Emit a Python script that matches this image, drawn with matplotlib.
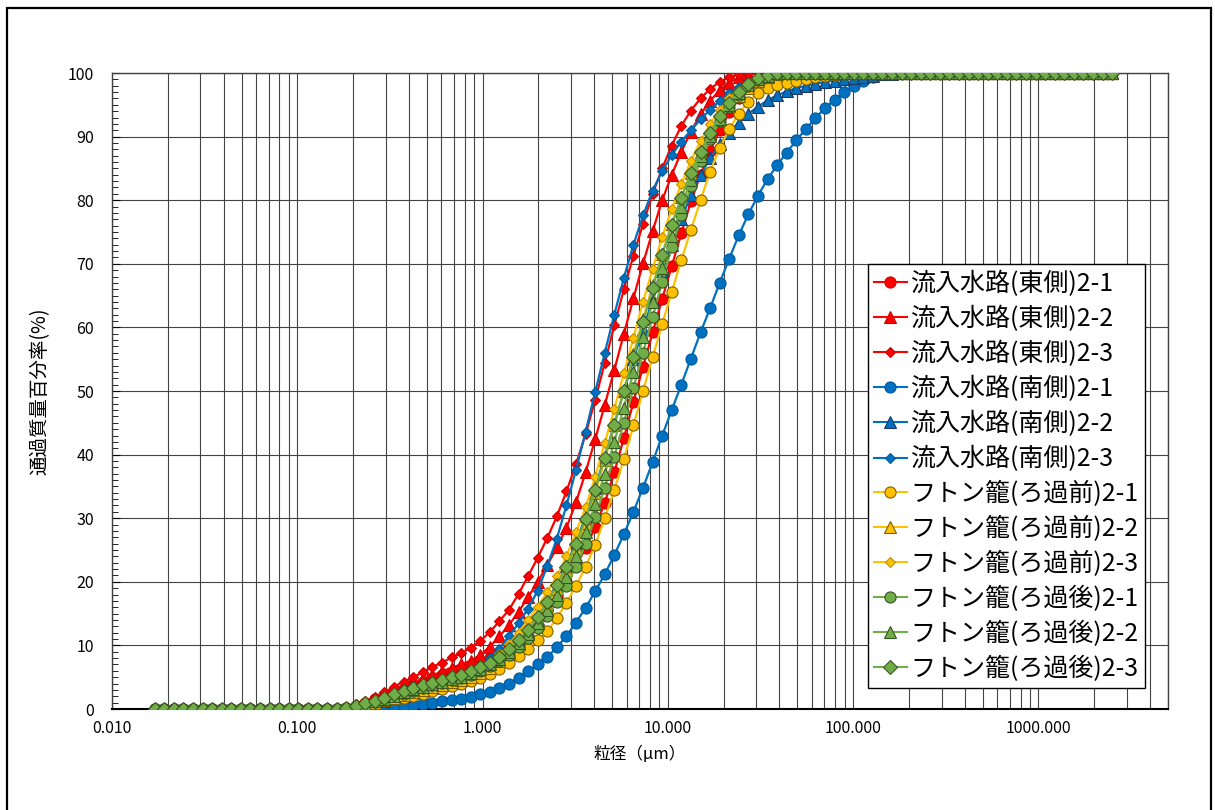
import matplotlib
matplotlib.use("Agg")
import matplotlib.pyplot as plt
from matplotlib.patches import Rectangle
from matplotlib.ticker import FixedLocator, NullFormatter, MultipleLocator

plt.rcParams['font.family'] = ['Noto Sans CJK JP', 'DejaVu Sans']

# particle size channels (µm)
sizes = [0.0170, 0.0191, 0.0216, 0.0243, 0.0274, 0.0308, 0.0347, 0.0391, 0.0440, 0.0496,
         0.0559, 0.0629, 0.0709, 0.0798, 0.0899, 0.1013, 0.1141, 0.1285, 0.1447, 0.1630,
         0.1836, 0.2068, 0.2330, 0.2624, 0.2955, 0.3329, 0.3750, 0.4223, 0.4757, 0.5358,
         0.6035, 0.6798, 0.7657, 0.8625, 0.9714, 1.094, 1.232, 1.388, 1.564, 1.761,
         1.984, 2.234, 2.517, 2.835, 3.193, 3.596, 4.051, 4.563, 5.139, 5.788,
         6.520, 7.344, 8.272, 9.317, 10.49, 11.82, 13.31, 15.00, 16.89, 19.03,
         21.43, 24.14, 27.19, 30.62, 34.49, 38.85, 43.76, 49.28, 55.51, 62.52,
         70.42, 79.32, 89.35, 100.6, 113.4, 127.7, 143.8, 162.0, 182.4, 205.5,
         231.5, 260.7, 293.6, 330.7, 372.5, 419.6, 472.6, 532.3, 599.6, 675.4,
         760.7, 856.8, 965.0, 1087.0, 1224.3, 1379.0, 1553.3, 1749.5, 1970.6, 2219.6,
         2500.0]

N_ZERO = 20  # channels below ~0.18 µm read as 0 %

# rising part of each curve (from channel 20 onward); afterwards 100 %
east_1 = [0.2, 0.5, 1.0, 1.5, 2.0, 2.6, 3.2, 3.8, 4.3, 4.8, 5.3, 5.8, 6.3, 6.8, 7.3, 8.0, 8.8, 9.8,
          11.0, 12.4, 14.0, 15.8, 17.8, 20.0, 22.5, 25.3, 28.6, 32.4, 37.2, 42.6, 48.3, 53.8, 59.2,
          64.5, 69.6, 74.8, 79.8, 84.0, 87.7, 91.0, 93.8, 96.0, 97.6, 98.7, 99.4, 99.8]
east_2 = [0.2, 0.6, 1.1, 1.6, 2.2, 2.9, 3.5, 4.1, 4.7, 5.3, 5.9, 6.5, 7.0, 7.6, 8.5, 9.8, 11.4, 13.2,
          15.3, 17.6, 20.0, 22.6, 25.4, 28.5, 32.5, 37.2, 42.4, 47.8, 53.3, 59.0, 64.6, 70.1, 75.1,
          80.0, 84.0, 87.6, 90.8, 93.5, 95.6, 97.3, 98.5, 99.3, 99.8]
east_3 = [0.3, 0.8, 1.3, 1.9, 2.7, 3.5, 4.3, 5.0, 5.8, 6.6, 7.3, 8.1, 8.8, 9.6, 10.7, 12.1, 13.8, 15.6,
          18.1, 20.9, 23.8, 26.9, 30.3, 34.2, 38.5, 43.2, 48.6, 54.4, 60.3, 66.0, 71.3, 76.3, 81.0,
          85.0, 88.6, 91.7, 94.1, 96.0, 97.5, 98.6, 99.3, 99.8]
south_1 = [0.0, 0.0, 0.05, 0.1, 0.2, 0.35, 0.5, 0.65, 0.8, 1.0, 1.2, 1.4, 1.6, 1.9, 2.3, 2.7, 3.3, 4.0,
           4.9, 5.9, 7.0, 8.2, 9.7, 11.5, 13.6, 15.9, 18.5, 21.2, 24.2, 27.5, 31.0, 34.8, 38.8, 43.0,
           47.0, 51.0, 55.1, 59.2, 63.0, 67.0, 70.8, 74.5, 77.8, 80.7, 83.3, 85.5, 87.5, 89.4, 91.2,
           92.9, 94.5, 95.8, 97.0, 98.0, 98.8, 99.4, 99.8]
south_2 = [0.1, 0.3, 0.6, 0.9, 1.3, 1.7, 2.1, 2.5, 2.9, 3.3, 3.7, 4.1, 4.6, 5.1, 5.8, 6.7, 7.9, 9.4,
           11.0, 12.5, 14.2, 16.5, 19.3, 22.5, 26.2, 30.3, 34.8, 39.7, 44.8, 50.0, 55.0, 59.8, 64.3,
           68.8, 73.0, 77.0, 80.8, 83.9, 86.6, 88.8, 90.6, 92.2, 93.6, 94.7, 95.7, 96.5, 97.1, 97.6,
           98.0, 98.3, 98.6, 98.8, 99.0, 99.2, 99.4, 99.6, 99.8, 99.9]
south_3 = [0.1, 0.3, 0.6, 1.0, 1.4, 1.8, 2.2, 2.7, 3.1, 3.6, 4.1, 4.6, 5.2, 5.9, 6.8, 8.0, 9.5, 11.4,
           13.5, 15.8, 18.6, 22.5, 26.8, 32.0, 37.6, 43.6, 49.8, 56.0, 62.0, 67.8, 73.0, 77.6, 81.5,
           84.6, 87.1, 89.2, 91.0, 92.7, 94.2, 95.6, 96.8, 97.8, 98.6, 99.2, 99.7]
pre_1 = [0.1, 0.3, 0.6, 0.9, 1.2, 1.5, 1.8, 2.1, 2.4, 2.8, 3.2, 3.6, 4.0, 4.4, 4.9, 5.5, 6.3, 7.3,
         8.4, 9.5, 10.8, 12.2, 14.3, 16.7, 19.4, 22.3, 25.8, 30.0, 34.5, 39.3, 44.6, 50.0, 55.3,
         60.5, 65.6, 70.6, 75.3, 80.0, 84.5, 88.2, 91.2, 93.6, 95.5, 96.8, 97.6, 98.1, 98.5, 98.8,
         99.1, 99.3, 99.5, 99.7, 99.9]
pre_2 = [0.1, 0.3, 0.6, 1.0, 1.4, 1.8, 2.2, 2.6, 3.0, 3.4, 3.8, 4.2, 4.6, 5.1, 5.7, 6.5, 7.5, 8.7,
         10.2, 12.0, 14.0, 16.2, 18.8, 21.8, 25.3, 29.3, 34.0, 39.2, 44.6, 50.2, 55.8, 61.3, 66.6,
         71.6, 76.3, 80.5, 84.3, 87.6, 90.4, 92.8, 94.8, 96.4, 97.7, 98.7, 99.4, 99.8]
pre_3 = [0.1, 0.3, 0.7, 1.1, 1.5, 1.9, 2.3, 2.7, 3.1, 3.5, 3.9, 4.3, 4.8, 5.4, 6.2, 7.3, 8.6, 10.2,
         12.0, 14.0, 16.1, 18.4, 20.9, 24.0, 27.8, 31.7, 36.5, 41.8, 47.2, 52.8, 58.4, 64.0, 69.2,
         74.2, 78.6, 82.6, 86.2, 89.3, 92.0, 94.2, 96.0, 97.4, 98.5, 99.3, 99.8]
post_1 = [0.1, 0.4, 0.7, 1.1, 1.5, 2.0, 2.4, 2.9, 3.3, 3.7, 4.1, 4.5, 4.9, 5.4, 6.0, 6.7, 7.5, 8.5,
          9.7, 11.1, 12.7, 14.6, 16.8, 19.4, 22.4, 26.0, 30.2, 34.8, 39.7, 45.0, 50.5, 56.0, 61.6,
          67.2, 72.6, 77.6, 82.2, 86.2, 89.6, 92.4, 94.7, 96.5, 97.9, 98.9, 99.5, 99.9]
post_2 = [0.1, 0.4, 0.8, 1.2, 1.6, 2.1, 2.6, 3.1, 3.5, 3.9, 4.3, 4.7, 5.1, 5.6, 6.3, 7.0, 7.9, 9.0,
          10.3, 11.8, 13.5, 15.6, 18.0, 20.8, 24.0, 27.8, 32.2, 37.0, 42.0, 47.4, 53.0, 58.5, 64.0,
          69.3, 74.3, 79.0, 83.2, 86.9, 90.1, 92.8, 95.0, 96.8, 98.1, 99.0, 99.6]
post_3 = [0.2, 0.5, 0.9, 1.3, 1.8, 2.3, 2.8, 3.3, 3.7, 4.1, 4.6, 5.0, 5.4, 5.9, 6.6, 7.3, 8.2, 9.4,
          10.9, 12.5, 14.4, 16.8, 19.5, 22.4, 25.9, 29.9, 34.5, 39.5, 44.6, 50.0, 55.4, 60.8, 66.2,
          71.4, 76.1, 80.4, 84.2, 87.6, 90.6, 93.2, 95.3, 97.0, 98.3, 99.2, 99.7]

labels = ['流入水路(東側)2-1', '流入水路(東側)2-2', '流入水路(東側)2-3',
          '流入水路(南側)2-1', '流入水路(南側)2-2', '流入水路(南側)2-3',
          'フトン籠(ろ過前)2-1', 'フトン籠(ろ過前)2-2', 'フトン籠(ろ過前)2-3',
          'フトン籠(ろ過後)2-1', 'フトン籠(ろ過後)2-2', 'フトン籠(ろ過後)2-3']
series = [east_1, east_2, east_3, south_1, south_2, south_3,
          pre_1, pre_2, pre_3, post_1, post_2, post_3]

xtick_vals = [0.01, 0.1, 1, 10, 100, 1000]
xtick_labels = ['0.010', '0.100', '1.000', '10.000', '100.000', '1000.000']


def full(vals):
    return [0.0] * N_ZERO + vals + [100.0] * (len(sizes) - N_ZERO - len(vals))


RED, BLUE, YEL, GRN = '#FF0000', '#0070C0', '#FFC000', '#70AD47'
styles = [
    dict(color=RED, marker='o', ms=8, mfc=RED, mec='#D00000'),
    dict(color=RED, marker='^', ms=8.5, mfc=RED, mec='#D00000'),
    dict(color=RED, marker='D', ms=5, mfc=RED, mec='#D00000'),
    dict(color=BLUE, marker='o', ms=8, mfc=BLUE, mec='#005A9E'),
    dict(color=BLUE, marker='^', ms=8.5, mfc=BLUE, mec='#1F3864'),
    dict(color=BLUE, marker='D', ms=5, mfc=BLUE, mec='#005A9E'),
    dict(color=YEL, marker='o', ms=8, mfc=YEL, mec='#7F6000'),
    dict(color=YEL, marker='^', ms=8.5, mfc=YEL, mec='#7F6000'),
    dict(color=YEL, marker='D', ms=5, mfc=YEL, mec='#BF9000'),
    dict(color=GRN, marker='o', ms=8, mfc=GRN, mec='#375623'),
    dict(color=GRN, marker='^', ms=8.5, mfc=GRN, mec='#375623'),
    dict(color=GRN, marker='D', ms=7.5, mfc=GRN, mec='#375623'),
]

fig = plt.figure(figsize=(12.15, 8.10), dpi=100)
ax = fig.add_axes([112 / 1215, 1 - 709 / 810, (1168 - 112) / 1215, (709 - 73) / 810])

for vals, lab, st in zip(series, labels, styles):
    ax.plot(sizes, full(vals), lw=1.6, mew=0.8, label=lab, **st, zorder=3)

ax.set_xscale('log')
ax.set_xlim(0.01, 5000)
ax.set_ylim(0, 100)

ax.xaxis.set_major_locator(FixedLocator(xtick_vals))
ax.set_xticklabels(xtick_labels)
ax.xaxis.set_minor_formatter(NullFormatter())
ax.yaxis.set_major_locator(MultipleLocator(10))
ax.yaxis.set_minor_locator(MultipleLocator(1))

ax.grid(True, which='both', axis='x', color='#444444', lw=0.8)
ax.grid(True, which='major', axis='y', color='#444444', lw=0.8)
ax.set_axisbelow(True)

ax.tick_params(axis='x', which='both', length=0, labelsize=11.5, pad=8)
ax.tick_params(axis='y', which='major', length=6, direction='in', labelsize=11.5, pad=13)
ax.tick_params(axis='y', which='minor', length=4, direction='in')
for sp in ax.spines.values():
    sp.set_color('#404040')
    sp.set_linewidth(1.0)
ax.spines['bottom'].set_color('black')
ax.spines['bottom'].set_linewidth(1.5)

ax.set_xlabel('粒径（μm）', fontsize=12, labelpad=6)
ax.set_ylabel('通過質量百分率(%)', fontsize=14, labelpad=12)

leg = ax.legend(loc='lower right', bbox_to_anchor=(0.978, 0.033), fontsize=18,
                frameon=True, fancybox=False, edgecolor='black', framealpha=1,
                handlelength=1.3, handletextpad=0.15, labelspacing=0.35,
                borderpad=0.25, borderaxespad=0)
leg.get_frame().set_linewidth(1.0)
leg.set_zorder(5)
for line in leg.get_lines():
    line.set_linewidth(1.5)

fig.patches.append(Rectangle((7 / 1215, -0.01), (1211 - 7) / 1215, 0.99 + 0.01,
                             transform=fig.transFigure, fill=False, ec='black', lw=1.6))

fig.savefig('out.png', dpi=100)
